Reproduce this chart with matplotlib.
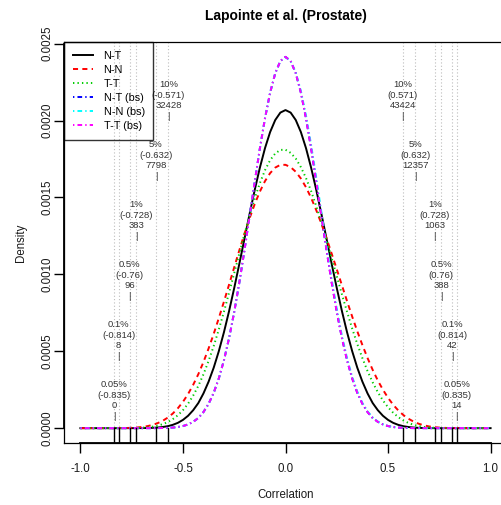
import numpy as np
import matplotlib
matplotlib.use("Agg")
import matplotlib.pyplot as plt
import matplotlib.transforms as mtransforms

plt.rcParams['font.family'] = ['Liberation Sans', 'DejaVu Sans']

# correlation grid on which the densities are evaluated (-1 .. 1, step 0.025)
r_grid = np.round(np.linspace(-1.0, 1.0, 81), 3)

# density of pairwise correlations
nt = [0, 0, 0, 0, 0, 0, 0, 0, 0, 0, 0, 0,
      0.0000004, 0.0000009, 0.0000019, 0.0000038, 0.0000072, 0.0000126, 0.0000213,
      0.0000344, 0.0000536, 0.0000804, 0.0001169, 0.0001633, 0.0002259, 0.0003021,
      0.0003933, 0.0005010, 0.0006243, 0.0007618, 0.0009111, 0.0010691, 0.0012314,
      0.0013931, 0.0015490, 0.0016931, 0.0018202, 0.0019250, 0.0020033, 0.0020516,
      0.0020680,
      0.0020516, 0.0020033, 0.0019250, 0.0018202, 0.0016931, 0.0015490, 0.0013931,
      0.0012314, 0.0010691, 0.0009111, 0.0007618, 0.0006243, 0.0005010, 0.0003933,
      0.0003021, 0.0002259, 0.0001633, 0.0001169, 0.0000804, 0.0000536, 0.0000344,
      0.0000213, 0.0000126, 0.0000072, 0.0000038, 0.0000019, 0.0000009, 0.0000004,
      0, 0, 0, 0, 0, 0, 0, 0, 0, 0, 0, 0]

nn = [0, 0, 0, 0, 0, 0, 0, 0,
      0.0000005, 0.0000010, 0.0000022, 0.0000041, 0.0000074, 0.0000126, 0.0000204,
      0.0000315, 0.0000469, 0.0000676, 0.0000945, 0.0001290, 0.0001710, 0.0002220,
      0.0002820, 0.0003510, 0.0004300, 0.0005180, 0.0006130, 0.0007160, 0.0008230,
      0.0009340, 0.0010460, 0.0011570, 0.0012640, 0.0013650, 0.0014570, 0.0015380,
      0.0016060, 0.0016580, 0.0016940, 0.0017120,
      0.0017120,
      0.0016970, 0.0016670, 0.0016230, 0.0015660, 0.0014970, 0.0014170, 0.0013290,
      0.0012350, 0.0011350, 0.0010330, 0.0009290, 0.0008260, 0.0007260, 0.0006300,
      0.0005400, 0.0004560, 0.0003790, 0.0003100, 0.0002500, 0.0001970, 0.0001520,
      0.0001150, 0.0000848, 0.0000608, 0.0000423, 0.0000283, 0.0000182, 0.0000112,
      0.0000065, 0.0000035, 0.0000018, 0.0000008, 0.0000003, 0.0000001,
      0, 0, 0, 0, 0, 0]

tt = [0, 0, 0, 0, 0, 0, 0, 0,
      0.0000001, 0.0000003, 0.0000006, 0.0000014, 0.0000028, 0.0000053, 0.0000093,
      0.0000157, 0.0000252, 0.0000389, 0.0000579, 0.0000835, 0.0001170, 0.0001590,
      0.0002120, 0.0002750, 0.0003500, 0.0004370, 0.0005340, 0.0006420, 0.0007580,
      0.0008810, 0.0010080, 0.0011360, 0.0012620, 0.0013830, 0.0014940, 0.0015930,
      0.0016770, 0.0017420, 0.0017860, 0.0018090,
      0.0018100,
      0.0017900, 0.0017530, 0.0016970, 0.0016260, 0.0015410, 0.0014430, 0.0013370,
      0.0012230, 0.0011060, 0.0009880, 0.0008700, 0.0007570, 0.0006480, 0.0005470,
      0.0004550, 0.0003710, 0.0002980, 0.0002340, 0.0001800, 0.0001360, 0.0000999,
      0.0000714, 0.0000496, 0.0000333, 0.0000215, 0.0000133, 0.0000079, 0.0000044,
      0.0000023, 0.0000011, 0.0000005, 0.0000002,
      0, 0, 0, 0, 0, 0, 0, 0]

# bootstrap densities
nt_bs = [0, 0, 0, 0, 0, 0, 0, 0, 0, 0, 0, 0, 0, 0, 0,
         0.0000003, 0.0000008, 0.0000018, 0.0000037, 0.0000073, 0.0000136, 0.0000242,
         0.0000411, 0.0000661, 0.0001046, 0.0001581, 0.0002296, 0.0003237, 0.0004421,
         0.0005861, 0.0007555, 0.0009477, 0.0011578, 0.0013791, 0.0016026, 0.0018182,
         0.0020145, 0.0021809, 0.0023076, 0.0023870,
         0.0024140,
         0.0023870, 0.0023076, 0.0021809, 0.0020145, 0.0018182, 0.0016026, 0.0013791,
         0.0011578, 0.0009477, 0.0007555, 0.0005861, 0.0004421, 0.0003237, 0.0002296,
         0.0001581, 0.0001046, 0.0000661, 0.0000411, 0.0000242, 0.0000136, 0.0000073,
         0.0000037, 0.0000018, 0.0000008, 0.0000003,
         0, 0, 0, 0, 0, 0, 0, 0, 0, 0, 0, 0, 0, 0, 0]

nn_bs = [0, 0, 0, 0, 0, 0, 0, 0, 0, 0, 0, 0, 0, 0, 0,
         0.0000003, 0.0000008, 0.0000018, 0.0000037, 0.0000073, 0.0000136, 0.0000242,
         0.0000411, 0.0000661, 0.0001046, 0.0001581, 0.0002296, 0.0003237, 0.0004421,
         0.0005861, 0.0007555, 0.0009477, 0.0011578, 0.0013791, 0.0016026, 0.0018182,
         0.0020145, 0.0021809, 0.0023076, 0.0023870,
         0.0024120,
         0.0023880, 0.0023120, 0.0021920, 0.0020320, 0.0018400, 0.0016280, 0.0014040,
         0.0011820, 0.0009700, 0.0007750, 0.0006020, 0.0004550, 0.0003340, 0.0002380,
         0.0001640, 0.0001090, 0.0000690, 0.0000430, 0.0000250, 0.0000140, 0.0000073,
         0.0000037, 0.0000018, 0.0000008, 0.0000003,
         0, 0, 0, 0, 0, 0, 0, 0, 0, 0, 0, 0, 0, 0, 0]

tt_bs = [0, 0, 0, 0, 0, 0, 0, 0, 0, 0, 0, 0, 0, 0, 0,
         0.0000003, 0.0000008, 0.0000018, 0.0000037, 0.0000073, 0.0000136, 0.0000242,
         0.0000411, 0.0000661, 0.0001046, 0.0001581, 0.0002296, 0.0003237, 0.0004421,
         0.0005861, 0.0007555, 0.0009477, 0.0011578, 0.0013791, 0.0016026, 0.0018182,
         0.0020145, 0.0021809, 0.0023076, 0.0023870,
         0.0024140,
         0.0023870, 0.0023076, 0.0021809, 0.0020145, 0.0018182, 0.0016026, 0.0013791,
         0.0011578, 0.0009477, 0.0007555, 0.0005861, 0.0004421, 0.0003237, 0.0002296,
         0.0001581, 0.0001046, 0.0000661, 0.0000411, 0.0000242, 0.0000136, 0.0000073,
         0.0000037, 0.0000018, 0.0000008, 0.0000003,
         0, 0, 0, 0, 0, 0, 0, 0, 0, 0, 0, 0, 0, 0, 0]

series_names = ["N-T", "N-N", "T-T", "N-T (bs)", "N-N (bs)", "T-T (bs)"]

# tail cut-offs of the bootstrap distribution and number of pairs beyond them
cut_pct = ["10%", "5%", "1%", "0.5%", "0.1%", "0.05%"]
cut_neg = [-0.571, -0.632, -0.728, -0.76, -0.814, -0.835]
cut_pos = [0.571, 0.632, 0.728, 0.76, 0.814, 0.835]
count_neg = [32428, 7798, 383, 96, 8, 0]
count_pos = [43424, 12357, 1063, 388, 42, 14]
label_y = [0.00213, 0.00174, 0.00135, 0.00096, 0.00057, 0.00018]

x_ticks = [-1.0, -0.5, 0.0, 0.5, 1.0]
x_tick_labels = ["-1.0", "-0.5", "0.0", "0.5", "1.0"]
y_ticks = [0.0, 0.0005, 0.0010, 0.0015, 0.0020, 0.0025]
y_tick_labels = ["0.0000", "0.0005", "0.0010", "0.0015", "0.0020", "0.0025"]

# ---------------------------------------------------------------- figure
W, H = 501, 505
fig = plt.figure(figsize=(W / 100, H / 100), dpi=100)
fig.patch.set_facecolor("white")
L, R, T, B = 64, 507, 42, 443
ax = fig.add_axes([L / W, 1 - B / H, (R - L) / W, (B - T) / H])

all_series = [nt, nn, tt, nt_bs, nn_bs, tt_bs]
ymax = max(max(s) for s in all_series)
ax.set_xlim(-1.08, 1.08)
ax.set_ylim(-0.04 * ymax, 1.04 * ymax)

# cut-off guide lines
for v in cut_neg + cut_pos:
    ax.axvline(v, color="#bdbdbd", lw=0.8, linestyle=(0, (1, 2)), zorder=1)

line_styles = [
    dict(color="black", linestyle="-"),
    dict(color="red", linestyle=(0, (2.6, 2.2))),
    dict(color="#00CD00", linestyle=(0, (0.7, 1.6))),
    dict(color="blue", linestyle=(0, (0.7, 1.6, 2.4, 1.6))),
    dict(color="cyan", linestyle=(0, (0.7, 1.6, 2.4, 1.6))),
    dict(color="magenta", linestyle=(0, (0.7, 1.6, 2.4, 1.6))),
]
for s, name, st in zip(all_series, series_names, line_styles):
    ax.plot(r_grid, s, lw=1.4, label=name, zorder=3, **st)

# rug marks at the cut-offs
for v in cut_neg + cut_pos:
    ax.axvline(v, ymin=0, ymax=15 / (B - T), color="black", lw=1.0, zorder=4)

# cut-off annotations
for pct, v, n, yy in zip(cut_pct, cut_neg, count_neg, label_y):
    ax.text(v, yy, f"{pct}\n({v:g})\n{n}\n|", ha="center", va="center",
            fontsize=6.8, color="#333333", linespacing=1.22, zorder=5)
for pct, v, n, yy in zip(cut_pct, cut_pos, count_pos, label_y):
    ax.text(v, yy, f"{pct}\n({v:g})\n{n}\n|", ha="center", va="center",
            fontsize=6.8, color="#333333", linespacing=1.22, zorder=5)

# axes, ticks and labels
for sp in ax.spines.values():
    sp.set_linewidth(0.9)
    sp.set_color("black")
xb = mtransforms.blended_transform_factory(ax.transData, ax.transAxes)
ax.plot([x_ticks[0], x_ticks[-1]], [0, 0], transform=xb, color="black",
        lw=1.3, clip_on=False, zorder=6)
yb = mtransforms.blended_transform_factory(ax.transAxes, ax.transData)
ax.plot([0, 0], [y_ticks[0], y_ticks[-1]], transform=yb, color="black",
        lw=1.3, clip_on=False, zorder=6)

ax.set_xticks(x_ticks)
ax.set_xticklabels(x_tick_labels)
ax.set_yticks(y_ticks)
ax.set_yticklabels(y_tick_labels, rotation=90, va="center")
ax.tick_params(axis="both", length=7, width=1.0, color="black",
               labelsize=8.3, labelcolor="#1a1a1a")
ax.tick_params(axis="x", pad=7.5)
ax.tick_params(axis="y", pad=0.5)

ax.set_xlabel("Correlation", fontsize=8.3, color="#1a1a1a")
ax.xaxis.set_label_coords(0.5, (B - 489) / (B - T))
ax.set_ylabel("Density", fontsize=8.3, color="#1a1a1a")
ax.yaxis.set_label_coords((27 - L) / (R - L), 0.5)
ax.set_title("Lapointe et al. (Prostate)", fontsize=10, fontweight="bold",
             pad=15.8)

leg = ax.legend(loc="upper left", bbox_to_anchor=(0, 1), borderaxespad=0,
                fontsize=7.8, frameon=True, fancybox=False, edgecolor="black",
                facecolor="none", handlelength=1.85, handletextpad=1.0,
                borderpad=0.8, labelspacing=0.38)
leg.get_frame().set_linewidth(1.0)
leg.set_zorder(7)

fig.savefig("out.png", dpi=100, facecolor="white")
